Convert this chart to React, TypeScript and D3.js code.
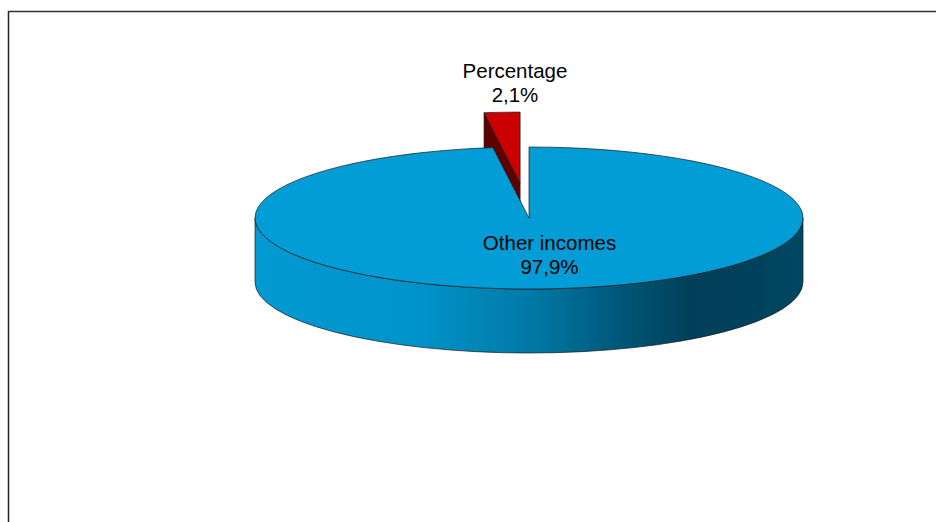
import React from "react";
import * as d3 from "d3";

const categories = ["Other incomes", "Percentage"];
const values = [97.9, 2.1];
const valueLabels = ["97,9%", "2,1%"];
const exploded = [0, 1];

const W = 936;
const H = 522;
const cx = 529;
const cy = 218;
const rx = 274;
const ry = 71;
const depth = 64;
const explodeR = 135;

const topColors = ["#029DD7", "#CC0000"];
const sideColors = ["#0290C8", "#5E0000"];

function rim(a: number, ox = 0, oy = 0, dy = 0): [number, number] {
  return [cx + ox + rx * Math.sin(a), cy + oy - ry * Math.cos(a) + dy];
}

export default function App() {
  const pie = d3
    .pie<number>()
    .sort(null)
    .value((d) => d)
    .startAngle(0)
    .endAngle(2 * Math.PI);
  const arcs = pie(values);

  const slices = arcs.map((a, i) => {
    const mid = (a.startAngle + a.endAngle) / 2;
    const e = exploded[i] ? explodeR : 0;
    const ox = e * Math.sin(mid);
    const oy = -e * Math.cos(mid) * (ry / rx);
    const c: [number, number] = [cx + ox, cy + oy];
    const p0 = rim(a.startAngle, ox, oy);
    const p1 = rim(a.endAngle, ox, oy);
    const large = a.endAngle - a.startAngle > Math.PI ? 1 : 0;
    const top = `M${c[0]},${c[1]}L${p0[0]},${p0[1]}A${rx},${ry} 0 ${large} 1 ${p1[0]},${p1[1]}Z`;

    // front side (outer wall) visible between PI/2 and 3PI/2
    const s = Math.max(a.startAngle, Math.PI / 2);
    const en = Math.min(a.endAngle, (3 * Math.PI) / 2);
    let side: string | null = null;
    if (en > s) {
      const q0 = rim(s, ox, oy);
      const q1 = rim(en, ox, oy);
      const q1b = rim(en, ox, oy, depth);
      const q0b = rim(s, ox, oy, depth);
      const lg = en - s > Math.PI ? 1 : 0;
      side = `M${q0[0]},${q0[1]}A${rx},${ry} 0 ${lg} 1 ${q1[0]},${q1[1]}L${q1b[0]},${q1b[1]}A${rx},${ry} 0 ${lg} 0 ${q0b[0]},${q0b[1]}Z`;
    }
    // radial face at start angle (visible when facing viewer)
    let radial: string | null = null;
    const nStart = a.startAngle - Math.PI / 2;
    if (-Math.cos(nStart) > 0.001 && a.endAngle - a.startAngle < Math.PI) {
      radial = `M${c[0]},${c[1]}L${p0[0]},${p0[1]}L${p0[0]},${p0[1] + depth}L${c[0]},${c[1] + depth}Z`;
    }
    return { i, top, side, radial, mid, ox, oy };
  });

  const labelPos: [number, number][] = [
    [549.5, 250],
    [515, 78],
  ];

  const order = [1, 0];

  return (
    <svg
      width={W}
      height={H}
      style={{ position: "absolute", left: 0, top: 0, background: "#fff" }}
      fontFamily="Arial, 'Liberation Sans', sans-serif"
    >
      <defs>
        <linearGradient id="sideGrad" gradientUnits="userSpaceOnUse" x1={cx - rx} x2={cx + rx} y1={0} y2={0}>
          <stop offset="0" stopColor="#0399D2" />
          <stop offset="0.3" stopColor="#0093C9" />
          <stop offset="0.5" stopColor="#007AA7" />
          <stop offset="0.66" stopColor="#00587A" />
          <stop offset="0.8" stopColor="#003F58" />
          <stop offset="0.92" stopColor="#00425C" />
          <stop offset="1" stopColor="#004865" />
        </linearGradient>
      </defs>
      <line x1={8.5} y1={11} x2={8.5} y2={H} stroke="#222" strokeWidth={1.5} />
      <line x1={8} y1={11.5} x2={W} y2={11.5} stroke="#333" strokeWidth={1.5} />
      {order.map((k) => {
        const s = slices[k];
        return (
          <g key={k}>
            {s.radial && (
              <path d={s.radial} fill={sideColors[k]} stroke="#1a1a1a" strokeWidth={0.7} strokeLinejoin="round" />
            )}
            {s.side && (
              <path d={s.side} fill={k === 0 ? "url(#sideGrad)" : sideColors[k]} stroke="#1a1a1a" strokeWidth={0.7} />
            )}
            <path d={s.top} fill={topColors[k]} stroke="#1a1a1a" strokeWidth={0.7} strokeLinejoin="round" />
          </g>
        );
      })}
      {categories.map((c, i) => (
        <text key={c} x={labelPos[i][0]} y={labelPos[i][1]} textAnchor="middle" fontSize={20.5} fill="#000">
          <tspan x={labelPos[i][0]}>{c}</tspan>
          <tspan x={labelPos[i][0]} dy={23.5}>
            {valueLabels[i]}
          </tspan>
        </text>
      ))}
    </svg>
  );
}
